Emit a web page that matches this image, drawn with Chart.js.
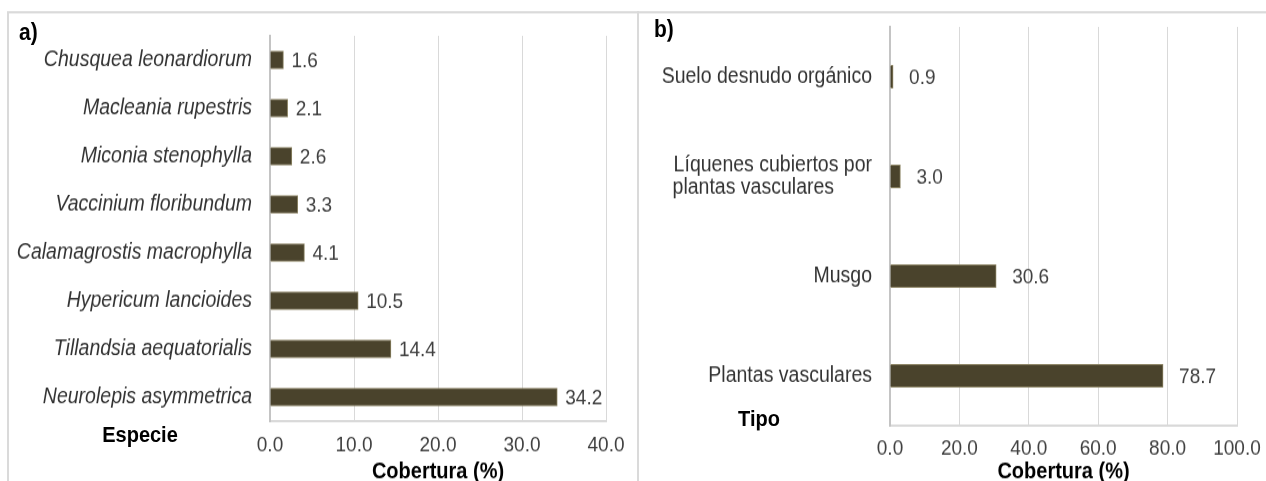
<!DOCTYPE html>
<html lang="es">
<head>
<meta charset="utf-8">
<title>Cobertura</title>
<script src="https://cdn.jsdelivr.net/npm/chart.js@4.4.1/dist/chart.umd.min.js"></script>
<style>
    html, body { margin: 0; padding: 0; background: #fff; width: 1266px; height: 481px; }
    #wrap { position: relative; width: 1266px; height: 481px; overflow: hidden; }
    /* the reference looks stretched vertically, so the whole figure is drawn shorter and scaled */
    #stage {
        position: absolute;
        left: 0;
        top: 0;
        width: 1266px;
        height: 430px;
        transform: scaleY(1.12);
        transform-origin: 0 0;
        overflow: hidden;
        font-family: "Liberation Sans", Arial, sans-serif;
    }
    .frame { position: absolute; border: 2px solid #dadada; box-sizing: border-box; }
    #frame-a { left: 7px; top: 10px; width: 632px; height: 460px; }
    #frame-b { left: 637px; top: 10px; width: 700px; height: 460px; }
    canvas { position: absolute; }
    #chart-a { left: 8px; top: 12px; }
    #chart-b { left: 641px; top: 12px; }
    .tag { position: absolute; font-weight: bold; color: #000; line-height: 1; }
    .axis-name { position: absolute; font-weight: bold; font-size: 20px; color: #000; line-height: 1; transform: translate(-50%, -50%); }
</style>
</head>
<body>
<div id="wrap">
<div id="stage">
    <div class="frame" id="frame-a"></div>
    <div class="frame" id="frame-b"></div>
    <canvas id="chart-a" width="628" height="430"></canvas>
    <canvas id="chart-b" width="625" height="430"></canvas>
    <div class="tag" style="left:19px; top:18px; font-size:21px;">a)</div>
    <div class="tag" style="left:654px; top:15px; font-size:21px;">b)</div>
    <div class="axis-name" style="left:140px; top:388px;">Especie</div>
    <div class="axis-name" style="left:759px; top:373px;">Tipo</div>
</div>
</div>

<script>
// a) cover by species
const speciesA = ['Chusquea leonardiorum', 'Macleania rupestris', 'Miconia stenophylla', 'Vaccinium floribundum',
    'Calamagrostis macrophylla', 'Hypericum lancioides', 'Tillandsia aequatorialis', 'Neurolepis asymmetrica'];
const coverA = [1.6, 2.1, 2.6, 3.3, 4.1, 10.5, 14.4, 34.2];
const ticksA = [0, 10, 20, 30, 40];

// b) cover by type (trailing spaces keep the second line under the start of the first)
const typesB = ['Suelo desnudo orgánico', ['Líquenes cubiertos por', 'plantas vasculares       '], 'Musgo', 'Plantas vasculares'];
const coverB = [0.9, 3.0, 30.6, 78.7];
const ticksB = [0, 20, 40, 60, 80, 100];

const xTitle = 'Cobertura (%)';

document.addEventListener('DOMContentLoaded', function() {
    drawPanel('chart-a', speciesA, coverA, ticksA, {
        axisWidth: 262, axisHeight: 66, top: 20, right: 30,
        bar: 16, gap: 8, italic: true, tickPad: 10
    });
    drawPanel('chart-b', typesB, coverB, ticksB, {
        axisWidth: 249, axisHeight: 62, top: 12, right: 29,
        bar: 20.5, gap: 16, italic: false, tickPad: 9
    });
});

/**
 * Writes the value to the right of every bar
 */
const valueLabels = {
    id: 'valueLabels',
    afterDatasetsDraw(chart, args, opts) {
        const ctx = chart.ctx;
        const meta = chart.getDatasetMeta(0);
        const data = chart.data.datasets[0].data;
        ctx.save();
        ctx.font = '19px "Liberation Sans", Arial, sans-serif';
        ctx.fillStyle = '#404040';
        ctx.textAlign = 'left';
        ctx.textBaseline = 'middle';
        meta.data.forEach((bar, i) => {
            ctx.fillText(data[i].toFixed(1), bar.x + opts.gap, bar.y + 1);
        });
        ctx.restore();
    }
};

/**
 * Draw one horizontal bar panel
 * @param {string} id - canvas id
 * @param {Array} labels - categories
 * @param {Array} values - cover values
 * @param {Array} ticks - x axis ticks
 * @param {object} cfg - layout of the panel
 */
function drawPanel(id, labels, values, ticks, cfg) {
    const ctx = document.getElementById(id).getContext('2d');
    const step = ticks[1] - ticks[0];

    return new Chart(ctx, {
        type: 'bar',
        data: {
            labels: labels,
            datasets: [{
                data: values,
                backgroundColor: '#4a432c',
                borderColor: '#8a8262',
                borderWidth: 1,
                barThickness: cfg.bar
            }]
        },
        options: {
            indexAxis: 'y',
            responsive: false,
            animation: false,
            devicePixelRatio: 1,
            layout: { padding: { top: cfg.top, right: cfg.right, left: 0, bottom: 0 } },
            plugins: {
                legend: { display: false },
                tooltip: { enabled: false },
                valueLabels: { gap: cfg.gap }
            },
            scales: {
                x: {
                    min: ticks[0],
                    max: ticks[ticks.length - 1],
                    // fixed height, the layout padding already leaves room for the end labels
                    afterFit: (scale) => {
                        scale.height = cfg.axisHeight;
                        scale.paddingLeft = 0;
                        scale.paddingRight = 0;
                    },
                    afterBuildTicks: (scale) => { scale.ticks = ticks.map(v => ({ value: v })); },
                    grid: { color: '#d9d9d9', lineWidth: 1, drawTicks: false },
                    border: { display: true, color: '#d9d9d9', width: 2 },
                    ticks: {
                        stepSize: step,
                        padding: cfg.tickPad,
                        color: '#404040',
                        font: { family: '"Liberation Sans", Arial, sans-serif', size: 19 },
                        callback: (v) => Number(v).toFixed(1)
                    },
                    title: {
                        display: true,
                        text: xTitle,
                        color: '#000',
                        font: { family: '"Liberation Sans", Arial, sans-serif', size: 20, weight: 'bold' },
                        padding: { top: 0, bottom: 8.6 }
                    }
                },
                y: {
                    // fixed width, and no extra room for the outer labels
                    afterFit: (scale) => {
                        scale.width = cfg.axisWidth;
                        scale.paddingTop = 0;
                        scale.paddingBottom = 0;
                    },
                    grid: { display: false, drawTicks: false },
                    border: { display: true, color: '#c4c4c4', width: 2 },
                    ticks: {
                        padding: 18,
                        color: '#333',
                        font: {
                            family: '"Liberation Sans", Arial, sans-serif',
                            size: 19.5,
                            style: cfg.italic ? 'italic' : 'normal',
                            lineHeight: 1.05
                        }
                    }
                }
            }
        },
        plugins: [valueLabels]
    });
}
</script>
</body>
</html>
